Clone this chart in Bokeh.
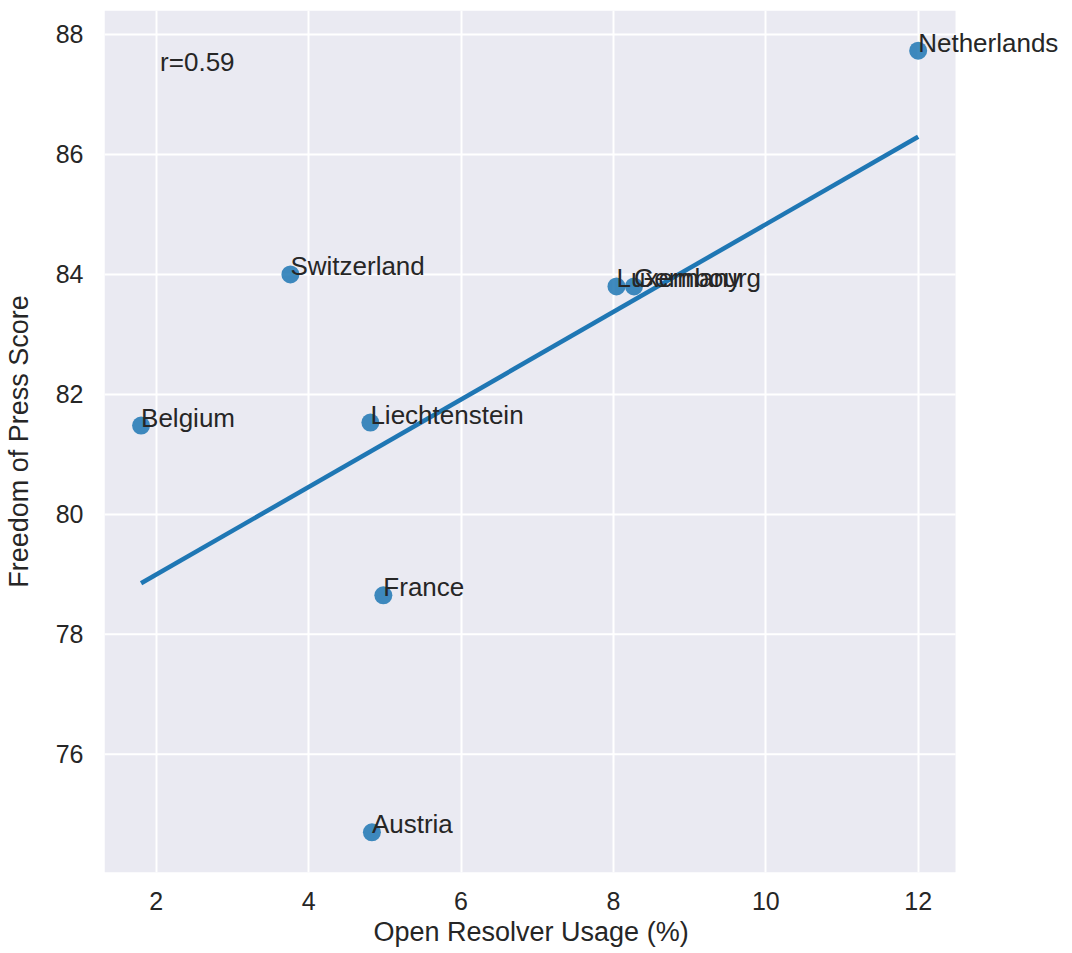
import numpy as np
from bokeh.plotting import figure
from bokeh.models import (ColumnDataSource, Label, FixedTicker, Range1d,
                          BoxAnnotation, Title)
from bokeh.embed import file_html
from bokeh.resources import INLINE

countries = ["Netherlands", "Switzerland", "Luxembourg", "Germany", "Belgium",
             "Liechtenstein", "France", "Austria"]
resolver_usage = [12.0, 3.76, 8.04, 8.27, 1.80, 4.81, 4.98, 4.83]
press_score = [87.73, 84.0, 83.8, 83.8, 81.48, 81.53, 78.65, 74.7]
x_ticks = [2, 4, 6, 8, 10, 12]
y_ticks = [76, 78, 80, 82, 84, 86, 88]

FONT = "Liberation Sans"
TXT = "#262626"
BG = "#EAEAF2"

# visible axes area
X0, X1 = 1.32, 12.49
Y0, Y1 = 74.03, 88.4
W, LEFT = 1070, 104
PX_PER_UNIT = 851 / (X1 - X0)
X_END = X0 + (W - LEFT) / PX_PER_UNIT  # frame extends right so labels aren't clipped

p = figure(width=W, height=950, output_backend="svg", toolbar_location=None,
           x_range=Range1d(X0, X_END), y_range=Range1d(Y0, Y1),
           min_border_left=LEFT, min_border_right=0, min_border_top=10,
           min_border_bottom=78)
p.background_fill_color = "white"
p.border_fill_color = "white"
p.outline_line_color = None

p.add_layout(BoxAnnotation(right=X1, fill_color=BG, fill_alpha=1.0,
                           line_color=None, level="image"))

for ax in (p.xaxis[0], p.yaxis[0]):
    ax.axis_line_color = None
    ax.major_tick_line_color = None
    ax.minor_tick_line_color = None
    ax.major_label_text_font = FONT
    ax.major_label_text_font_size = "25px"
    ax.major_label_text_color = TXT
    ax.axis_label_text_font = FONT
    ax.axis_label_text_font_size = "27px"
    ax.axis_label_text_color = TXT
    ax.axis_label_text_font_style = "normal"

p.xaxis.ticker = FixedTicker(ticks=x_ticks)
p.yaxis.ticker = FixedTicker(ticks=y_ticks)
p.xaxis.major_label_standoff = 13
p.yaxis.major_label_standoff = 15
p.yaxis.axis_label = "Freedom of Press Score"
p.yaxis.axis_label_standoff = 19

# x axis label centred under the visible axes area
p.add_layout(Title(text="Open Resolver Usage (%)", align="left", offset=269,
                   text_font=FONT, text_font_size="27px", text_color=TXT,
                   text_font_style="normal", standoff=4), "below")

p.xgrid.grid_line_color = "white"
p.xgrid.grid_line_width = 2
p.ygrid.visible = False
p.segment(x0=[X0] * len(y_ticks), x1=[X1] * len(y_ticks), y0=y_ticks, y1=y_ticks,
          line_color="white", line_width=2)

src = ColumnDataSource(dict(x=resolver_usage, y=press_score, name=countries))

# regression line
xa = np.array(resolver_usage)
ya = np.array(press_score)
slope, intercept = np.polyfit(xa, ya, 1)
r = np.corrcoef(xa, ya)[0, 1]
lx = [xa.min(), xa.max()]
ly = [slope * v + intercept for v in lx]

p.scatter("x", "y", source=src, size=18, fill_color="#1f77b4", fill_alpha=0.85,
          line_color=None)
p.line(lx, ly, line_color="#1f77b4", line_width=4.5)

for cx, cy, name in zip(resolver_usage, press_score, countries):
    p.add_layout(Label(x=cx, y=cy, text=name, text_font=FONT,
                       text_font_size="26px", text_color=TXT,
                       text_align="left", text_baseline="alphabetic",
                       y_offset=8))

p.add_layout(Label(x=2.05, y=87.4, text=f"r={r:.2f}", text_font=FONT,
                   text_font_size="26px", text_color=TXT,
                   text_baseline="alphabetic", y_offset=8))

open("out.html", "w").write(file_html(p, INLINE))
